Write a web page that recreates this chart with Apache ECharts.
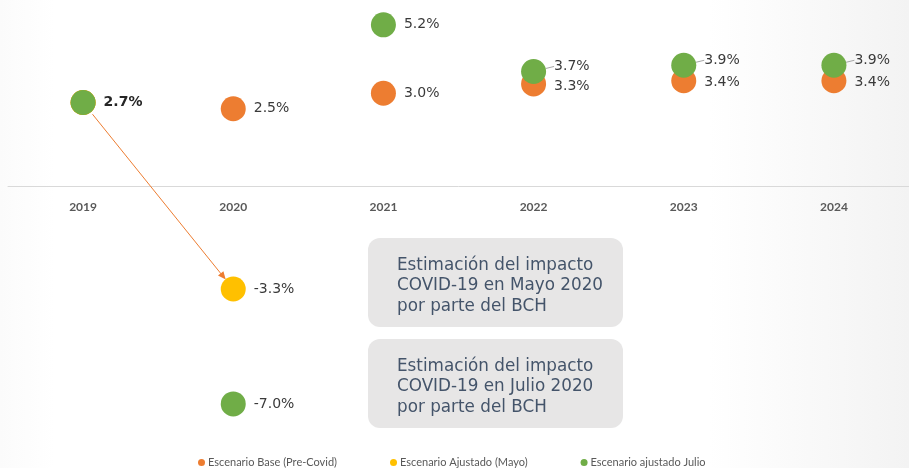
<!DOCTYPE html>
<html>
<head>
<meta charset="utf-8">
<script src="https://cdn.jsdelivr.net/npm/echarts@6/dist/echarts.min.js"></script>
<style>
  html, body { margin: 0; padding: 0; background: #fff; }
  #main { width: 909px; height: 468px; }
</style>
</head>
<body>
<div id="main"></div>
<script>
var years = ['2019', '2020', '2021', '2022', '2023', '2024'];
var baseValues = [2.7, 2.5, 3.0, 3.3, 3.4, 3.4];
var mayValues = [2.7, -3.3, null, null, null, null];
var julyValues = [2.7, -7.0, 5.2, 3.7, 3.9, 3.9];
var boxTexts = [
  'Estimación del impacto\nCOVID-19 en Mayo 2020\npor parte del BCH',
  'Estimación del impacto\nCOVID-19 en Julio 2020\npor parte del BCH'
];

var yMin = -8, yMax = 6, gridHeight = 435;
var labelFont = { color: '#3a3a3a', fontSize: 14, fontFamily: 'DejaVu Sans' };

function points(values, opts) {
  return values.map(function (v, i) {
    if (v == null) return null;
    var p = { value: v };
    if (opts[i]) p = Object.assign(p, opts[i]);
    return p;
  });
}
function pct(p) { return p.value.toFixed(1) + '%'; }

var myChart = echarts.init(document.getElementById('main'));

var leader = { labelLine: { show: true, lineStyle: { color: '#a6a6a6', width: 1 } } };

var option = {
  backgroundColor: {
    type: 'linear', x: 0, y: 0, x2: 1, y2: 0,
    colorStops: [
      { offset: 0, color: '#fbfbfb' },
      { offset: 0.06, color: '#ffffff' },
      { offset: 0.78, color: '#ffffff' },
      { offset: 1, color: '#f3f3f3' }
    ]
  },
  animation: false,
  grid: { left: 8, right: -2, top: 0, height: gridHeight },
  legend: {
    left: 193,
    top: 452,
    icon: 'circle',
    itemWidth: 7,
    itemHeight: 7,
    itemGap: 53,
    textStyle: { color: '#595959', fontSize: 11, fontFamily: 'Lato', padding: [0, 0, 0, -2] }
  },
  xAxis: {
    type: 'category',
    data: years,
    axisLine: { onZero: false, lineStyle: { color: '#d9d9d9', width: 1 } },
    offset: -gridHeight * (0 - yMin) / (yMax - yMin),
    axisTick: { show: false },
    axisLabel: { color: '#595959', fontWeight: 'bold', fontSize: 12, fontFamily: 'Lato', margin: 15 }
  },
  yAxis: {
    type: 'value',
    min: yMin,
    max: yMax,
    show: false,
    splitLine: { show: false }
  },
  series: [
    {
      name: 'Escenario Base (Pre-Covid)',
      type: 'scatter',
      symbolSize: 25,
      itemStyle: { color: '#ED7D31', opacity: 1 },
      label: Object.assign({ show: true, position: 'right', distance: 8, formatter: pct }, labelFont),
      labelLayout: function (p) { return p.dataIndex >= 3 ? { dy: 2 } : {}; },
      data: points(baseValues, { 0: { label: { show: false } } })
    },
    {
      name: 'Escenario Ajustado (Mayo)',
      type: 'scatter',
      symbolSize: 25,
      itemStyle: { color: '#FFC000', opacity: 1 },
      label: Object.assign({ show: true, position: 'right', distance: 8, formatter: pct }, labelFont),
      data: points(mayValues, { 0: { label: { show: false } } })
    },
    {
      name: 'Escenario ajustado Julio',
      type: 'scatter',
      symbolSize: 25,
      itemStyle: { color: '#70AD47', opacity: 1 },
      label: Object.assign({ show: true, position: 'right', distance: 8, formatter: pct }, labelFont),
      labelLayout: function (p) { return p.dataIndex >= 3 ? { dy: -5 } : {}; },
      data: points(julyValues, {
        0: { label: { fontWeight: 'bold', color: '#262626' } },
        3: leader, 4: leader, 5: leader
      })
    }
  ]
};

myChart.setOption(option);

// arrow from 2019 to the May 2020 estimate, anchored on the data points
var a = myChart.convertToPixel({ seriesIndex: 2 }, [0, julyValues[0]]);
var b = myChart.convertToPixel({ seriesIndex: 1 }, [1, mayValues[1]]);
var dx = b[0] - a[0], dy = b[1] - a[1];
var len = Math.sqrt(dx * dx + dy * dy);
var ux = dx / len, uy = dy / len;
var s = [a[0] + ux * 15, a[1] + uy * 15];
var e = [b[0] - ux * 12, b[1] - uy * 12];
var head = 8, half = 3.5;
var graphics = [
  {
    type: 'line', z: 1,
    shape: { x1: s[0], y1: s[1], x2: e[0] - ux * head * 0.8, y2: e[1] - uy * head * 0.8 },
    style: { stroke: '#ED7D31', lineWidth: 1 }
  },
  {
    type: 'polygon', z: 1,
    shape: { points: [
      e,
      [e[0] - ux * head - uy * half, e[1] - uy * head + ux * half],
      [e[0] - ux * head + uy * half, e[1] - uy * head - ux * half]
    ] },
    style: { fill: '#ED7D31' }
  }
];

var boxTops = [238, 339];
boxTops.forEach(function (top, i) {
  graphics.push({
    type: 'rect', z: 1,
    shape: { x: 368, y: top, width: 255, height: 89, r: 12 },
    style: { fill: '#e7e6e6' }
  });
  graphics.push({
    type: 'text', z: 2,
    x: 397, y: top + 17,
    style: {
      text: boxTexts[i],
      fill: '#44546a',
      font: '16.8px "DejaVu Sans"',
      lineHeight: 20.7,
      textAlign: 'left',
      textVerticalAlign: 'top'
    }
  });
});

myChart.setOption({ graphic: graphics });
</script>
</body>
</html>
